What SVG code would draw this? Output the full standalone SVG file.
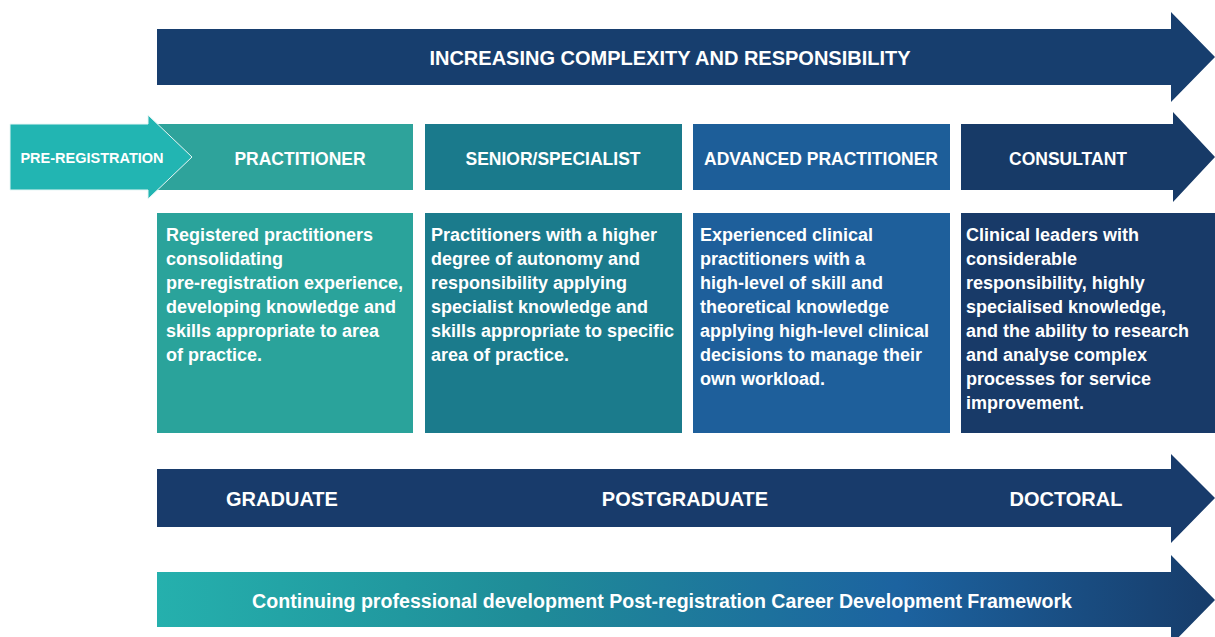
<svg xmlns="http://www.w3.org/2000/svg" width="1215" height="637" viewBox="0 0 1215 637">
<defs>
<linearGradient id="cpd" x1="0" y1="0" x2="1" y2="0">
<stop offset="0" stop-color="#25b0ad"/>
<stop offset="0.35" stop-color="#1f8c98"/>
<stop offset="0.7" stop-color="#1c63a0"/>
<stop offset="1" stop-color="#173c6a"/>
</linearGradient>
<style>
text{font-family:"Liberation Sans",Arial,sans-serif;font-weight:bold;fill:#ffffff}
.h{font-size:17.5px;text-anchor:middle}
.b{font-size:18px}
.t{font-size:20px;text-anchor:middle}
</style>
</defs>
<rect width="1215" height="637" fill="#ffffff"/>
<g id="connectors">
<g id="top-arrow">
<polygon points="157,29 1171,29 1171,12 1215,57 1171,102 1171,85 157,85" fill="#173e6e"/>
<text class="t" x="670" y="65">INCREASING COMPLEXITY AND RESPONSIBILITY</text>
</g>
<g id="edu-arrow">
<polygon points="157,469 1171,469 1171,454 1215,498 1171,543 1171,527 157,527" fill="#183b6b"/>
<text class="t" x="282" y="506">GRADUATE</text>
<text class="t" x="685" y="506">POSTGRADUATE</text>
<text class="t" x="1066" y="506">DOCTORAL</text>
</g>
<g id="cpd-arrow">
<polygon points="157,572 1171,572 1171,555 1215,600 1171,645 1171,627 157,627" fill="url(#cpd)"/>
<text class="t" x="662" y="608" style="font-size:19.6px">Continuing professional development Post-registration Career Development Framework</text>
</g>
</g>
<g id="practitioner">
<rect x="157" y="124" width="256" height="66" fill="#2ea39b"/>
<text class="h" x="300" y="165">PRACTITIONER</text>
<rect x="157" y="213" width="256" height="220" fill="#2aa39b"/>
<text class="b" x="166" y="241">Registered practitioners<tspan x="166" dy="24">consolidating</tspan><tspan x="166" dy="24">pre-registration experience,</tspan><tspan x="166" dy="24">developing knowledge and</tspan><tspan x="166" dy="24">skills appropriate to area</tspan><tspan x="166" dy="24">of practice.</tspan></text>
</g>
<g id="pre-registration">
<polygon points="10,124 148,124 148,115 192,157 148,199 148,190 10,190" fill="#22b5b2" stroke="#e8f6f5" stroke-width="1"/>
<text x="92" y="163" style="font-size:14.5px;text-anchor:middle">PRE-REGISTRATION</text>
</g>
<g id="senior">
<rect x="425" y="124" width="257" height="66" fill="#1a7a8c"/>
<text class="h" x="553" y="165">SENIOR/SPECIALIST</text>
<rect x="425" y="213" width="257" height="220" fill="#1b7b8c"/>
<text class="b" x="431" y="241">Practitioners with a higher<tspan x="431" dy="24">degree of autonomy and</tspan><tspan x="431" dy="24">responsibility applying</tspan><tspan x="431" dy="24">specialist knowledge and</tspan><tspan x="431" dy="24">skills appropriate to specific</tspan><tspan x="431" dy="24">area of practice.</tspan></text>
</g>
<g id="advanced">
<rect x="693" y="124" width="257" height="66" fill="#1d5e99"/>
<text class="h" x="821" y="165">ADVANCED PRACTITIONER</text>
<rect x="693" y="213" width="257" height="220" fill="#1e5f9b"/>
<text class="b" x="700" y="241">Experienced clinical<tspan x="700" dy="24">practitioners with a</tspan><tspan x="700" dy="24">high-level of skill and</tspan><tspan x="700" dy="24">theoretical knowledge</tspan><tspan x="700" dy="24">applying high-level clinical</tspan><tspan x="700" dy="24">decisions to manage their</tspan><tspan x="700" dy="24">own workload.</tspan></text>
</g>
<g id="consultant">
<polygon points="961,124 1173,124 1173,112 1215,157 1173,202 1173,190 961,190" fill="#173a67"/>
<text class="h" x="1068" y="165">CONSULTANT</text>
<rect x="961" y="213" width="254" height="220" fill="#183a68"/>
<text class="b" x="966" y="241">Clinical leaders with<tspan x="966" dy="24">considerable</tspan><tspan x="966" dy="24">responsibility, highly</tspan><tspan x="966" dy="24">specialised knowledge,</tspan><tspan x="966" dy="24">and the ability to research</tspan><tspan x="966" dy="24">and analyse complex</tspan><tspan x="966" dy="24">processes for service</tspan><tspan x="966" dy="24">improvement.</tspan></text>
</g>
</svg>
